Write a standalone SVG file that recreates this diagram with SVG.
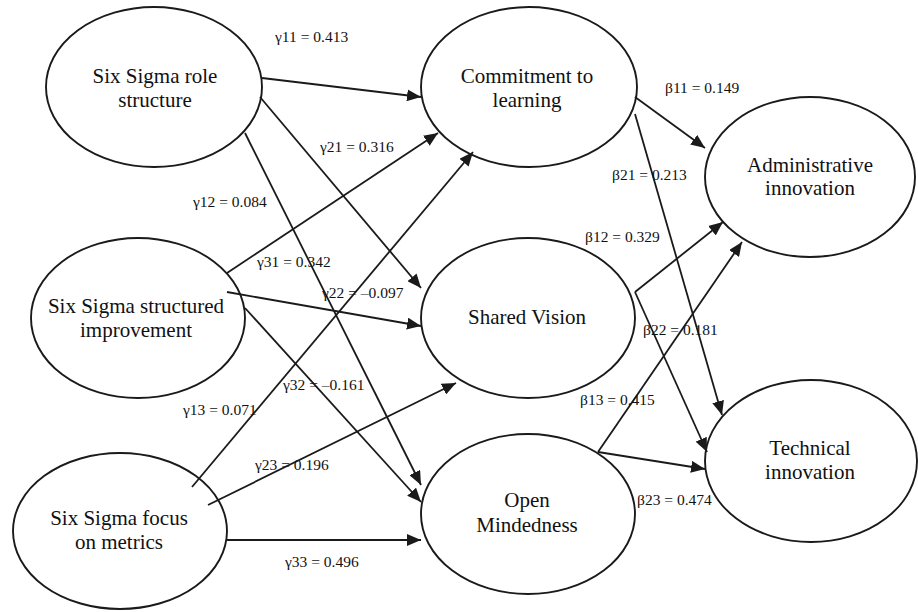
<svg xmlns="http://www.w3.org/2000/svg" width="918" height="612" viewBox="0 0 918 612">
<style>
.node ellipse{fill:#fff;stroke:#1a1a1a;stroke-width:1.9}
.node text{font-family:'Liberation Serif','Times New Roman',Tinos,'DejaVu Serif',serif;font-size:21px;fill:#111;text-anchor:middle}
.edges path{fill:none;stroke:#1a1a1a;stroke-width:1.8;marker-end:url(#arr)}
.lbl{font-family:'Liberation Serif','Times New Roman',Tinos,'DejaVu Serif',serif;font-size:15.5px;fill:#111}
</style>
<defs>
<marker id="arr" markerUnits="userSpaceOnUse" markerWidth="16" markerHeight="12" refX="14" refY="6" orient="auto">
<path d="M0,0 L14,6 L0,12 Z" fill="#1a1a1a"/>
</marker>
</defs>
<rect width="918" height="612" fill="#fff"/>
<g id="n-role" class="node"><ellipse cx="154" cy="87" rx="108" ry="80"/><text x="155" y="83" font-family="Liberation Serif, serif">Six Sigma role</text><text x="155" y="107" font-family="Liberation Serif, serif">structure</text></g>
<g id="n-improve" class="node"><ellipse cx="138" cy="318" rx="107" ry="80"/><text x="136" y="313">Six Sigma structured</text><text x="136" y="337">improvement</text></g>
<g id="n-metrics" class="node"><ellipse cx="120" cy="531" rx="107" ry="78"/><text x="119" y="525">Six Sigma focus</text><text x="119" y="549">on metrics</text></g>
<g id="n-commit" class="node"><ellipse cx="529" cy="87" rx="108" ry="80"/><text x="527" y="83">Commitment to</text><text x="527" y="107">learning</text></g>
<g id="n-vision" class="node"><ellipse cx="528" cy="318" rx="107" ry="80"/><text x="527" y="324">Shared Vision</text></g>
<g id="n-open" class="node"><ellipse cx="528" cy="514" rx="107" ry="80"/><text x="527" y="507">Open</text><text x="527" y="532">Mindedness</text></g>
<g id="n-admin" class="node"><ellipse cx="810" cy="177" rx="105" ry="80"/><text x="810" y="172">Administrative</text><text x="810" y="195">innovation</text></g>
<g id="n-tech" class="node"><ellipse cx="811" cy="461" rx="106" ry="81"/><text x="810" y="455">Technical</text><text x="810" y="479">innovation</text></g>
<g id="edges" class="edges">
<path d="M262,78 L421,97"/>
<path d="M260,97 L421,288"/>
<path d="M245,133 L421,485"/>
<path d="M227,273 L438,133"/>
<path d="M192,487 L473,152"/>
<path d="M227,292 L421,326"/>
<path d="M245,308 L421,502"/>
<path d="M208,505 L456,383"/>
<path d="M226,540 L421,540"/>
<path d="M635,97 L705,148"/>
<path d="M635,114 L722,415"/>
<path d="M635,292 L723,222"/>
<path d="M635,292 L707,452"/>
<path d="M598,452 L742,242"/>
<path d="M598,452 L705,469"/>
</g>
<g id="labels">
<text class="lbl" x="275" y="42">γ11 = 0.413</text>
<text class="lbl" x="320" y="152">γ21 = 0.316</text>
<text class="lbl" x="193" y="207">γ12 = 0.084</text>
<text class="lbl" x="257" y="267">γ31 = 0.342</text>
<text class="lbl" x="322" y="298">γ22 = –0.097</text>
<text class="lbl" x="283" y="390">γ32 = –0.161</text>
<text class="lbl" x="183" y="415">γ13 = 0.071</text>
<text class="lbl" x="255" y="470">γ23 = 0.196</text>
<text class="lbl" x="285" y="567">γ33 = 0.496</text>
<text class="lbl" x="665" y="93">β11 = 0.149</text>
<text class="lbl" x="612" y="180">β21 = 0.213</text>
<text class="lbl" x="585" y="242">β12 = 0.329</text>
<text class="lbl" x="643" y="335">β22 = 0.181</text>
<text class="lbl" x="580" y="405">β13 = 0.415</text>
<text class="lbl" x="637" y="505">β23 = 0.474</text>
</g>
</svg>
